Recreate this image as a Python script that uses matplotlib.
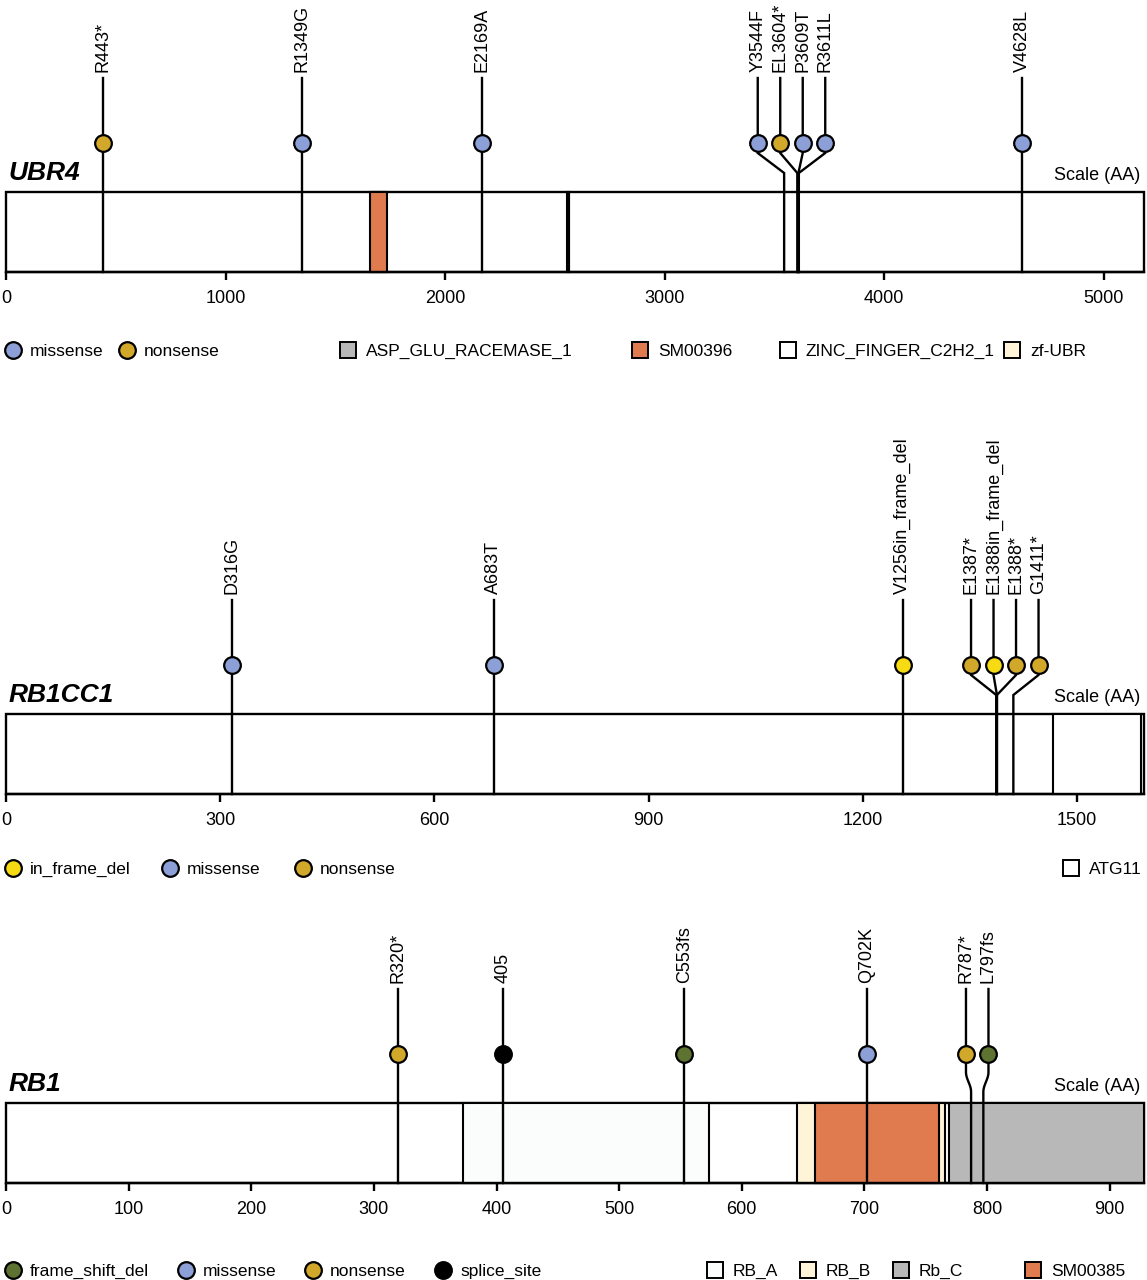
import matplotlib
matplotlib.use('Agg')
import matplotlib.pyplot as plt
import matplotlib.transforms as mtransforms
from matplotlib.patches import Rectangle
import numpy as np

plt.rcParams['font.family'] = ['Liberation Sans', 'DejaVu Sans']

W, H = 1147, 1280

mut_colors = {'missense': '#8c9fd6', 'nonsense': '#d2a82b', 'in_frame_del': '#f6da12',
              'frame_shift_del': '#5e7231', 'splice_site': '#000000'}
dom_colors = {'ASP_GLU_RACEMASE_1': '#b8b8b8', 'SM00396': '#e07b4f', 'ZINC_FINGER_C2H2_1': '#ffffff',
              'zf-UBR': '#fff4d8', 'ATG11': '#ffffff', 'RB_A': '#fbfdfd', 'RB_B': '#fff4d8',
              'Rb_C': '#b8b8b8', 'SM00385': '#e07b4f'}

# ---- UBR4
ubr4_len = 5183
ubr4_pos = [443, 1349, 2169, 3544, 3604, 3609, 3611, 4628]
ubr4_lab = ['R443*', 'R1349G', 'E2169A', 'Y3544F', 'EL3604*', 'P3609T', 'R3611L', 'V4628L']
ubr4_type = ['nonsense', 'missense', 'missense', 'missense', 'nonsense', 'missense', 'missense', 'missense']
ubr4_dom = ['zf-UBR', 'SM00396', 'ASP_GLU_RACEMASE_1', 'ZINC_FINGER_C2H2_1']
ubr4_dom_start = [1663, 1660, 2557, 2558]
ubr4_dom_end = [1730, 1733, 2566, 2565]
ubr4_ticks = [0, 1000, 2000, 3000, 4000, 5000]

# ---- RB1CC1
rb1cc1_len = 1594
rb1cc1_pos = [316, 683, 1256, 1387, 1388, 1388, 1411]
rb1cc1_lab = ['D316G', 'A683T', 'V1256in_frame_del', 'E1387*', 'E1388in_frame_del', 'E1388*', 'G1411*']
rb1cc1_type = ['missense', 'missense', 'in_frame_del', 'nonsense', 'in_frame_del', 'nonsense', 'nonsense']
rb1cc1_dom = ['ATG11']
rb1cc1_dom_start = [1467]
rb1cc1_dom_end = [1590]
rb1cc1_ticks = [0, 300, 600, 900, 1200, 1500]

# ---- RB1
rb1_len = 928
rb1_pos = [320, 405, 553, 702, 787, 797]
rb1_lab = ['R320*', '405', 'C553fs', 'Q702K', 'R787*', 'L797fs']
rb1_type = ['nonsense', 'splice_site', 'frame_shift_del', 'missense', 'nonsense', 'frame_shift_del']
rb1_dom = ['RB_A', 'RB_B', 'SM00385', 'Rb_C']
rb1_dom_start = [373, 645, 660, 769]
rb1_dom_end = [573, 766, 761, 928]
rb1_ticks = [0, 100, 200, 300, 400, 500, 600, 700, 800, 900]

X0, X1 = 6, 1144          # track pixel extent
SPACING = 22.5            # min circle spacing in px
LW = 1.7


def spread(pos, length):
    px = [X0 + p / length * (X1 - X0) for p in pos]
    groups = [[i] for i in range(len(px))]
    def layout(g):
        mid = (px[g[0]] + px[g[-1]]) / 2
        n = len(g)
        return [mid + (k - (n - 1) / 2) * SPACING for k in range(n)]
    changed = True
    while changed:
        changed = False
        for j in range(len(groups) - 1):
            a, b = layout(groups[j]), layout(groups[j + 1])
            if b[0] - a[-1] < SPACING - 0.01:
                groups[j] = groups[j] + groups[j + 1]
                del groups[j + 1]
                changed = True
                break
    disp = []
    for g in groups:
        disp += layout(g)
    return [(d - X0) / (X1 - X0) * length for d in disp]


fig = plt.figure(figsize=(W / 100, H / 100), dpi=100)
fig.patch.set_facecolor('white')

# overlay for legends (pixel coords)
lax = fig.add_axes([0, 0, 1, 1])
lax.set_xlim(0, W); lax.set_ylim(H, 0); lax.axis('off')


def panel(name, length, pos, lab, typ, dom, dstart, dend, ticks, top_px, curve=False):
    bot_px = top_px + 80
    h = 280
    ax = fig.add_axes([X0 / W, (H - bot_px) / H, (X1 - X0) / W, h / H])
    ax.set_xlim(0, length); ax.set_ylim(0, h)
    ax.patch.set_visible(False)
    for s in ['top', 'right', 'left']:
        ax.spines[s].set_visible(False)
    ax.spines['bottom'].set_linewidth(LW)
    ax.set_yticks([])
    ax.set_xticks(ticks)
    ax.tick_params(axis='x', length=6, width=LW, pad=7, labelsize=13, direction='out')

    ax.add_patch(Rectangle((0, 0), length, 80, facecolor='white', edgecolor='black', lw=LW,
                           clip_on=False, zorder=1))
    for d, s, e in zip(dom, dstart, dend):
        ax.add_patch(Rectangle((s, 0), e - s, 80, facecolor=dom_colors[d], edgecolor='black',
                               lw=1.5, clip_on=False, zorder=2))

    disp = spread(pos, length)
    cy, stick_top = 80 + 49, 80 + 114
    for p, d, l, t in zip(pos, disp, lab, typ):
        if curve:
            tt = np.linspace(0, 1, 30)
            bx = d + (p - d) * (1 - np.cos(np.pi * tt)) / 2
            by = 80 + 31 - 20 * tt
            xs = np.r_[d, d, bx, p]
            ys = np.r_[stick_top, cy, by, 0]
        else:
            xs = [d, d, d, p, p]
            ys = [stick_top, cy, 80 + 39, 80 + 19, 0]
        ax.plot(xs, ys, color='black', lw=LW, solid_joinstyle='miter', clip_on=False, zorder=3)
        ax.plot(d, cy, 'o', ms=12, mfc=mut_colors[t], mec='black', mew=1.6, clip_on=False, zorder=4)
        ax.text(d, stick_top + 6, l, rotation=90, ha='center', va='bottom', fontsize=13,
                clip_on=False, zorder=5)

    tr = mtransforms.blended_transform_factory(ax.transAxes, ax.transData)
    ax.text(0.002, 92, name, transform=tr, fontsize=19, fontweight='bold', fontstyle='italic',
            ha='left', va='baseline')
    ax.text(0.9965, 92, 'Scale (AA)', transform=tr, fontsize=13, ha='right', va='baseline')
    return ax


panel('UBR4', ubr4_len, ubr4_pos, ubr4_lab, ubr4_type, ubr4_dom, ubr4_dom_start, ubr4_dom_end,
      ubr4_ticks, 192)
panel('RB1CC1', rb1cc1_len, rb1cc1_pos, rb1cc1_lab, rb1cc1_type, rb1cc1_dom, rb1cc1_dom_start,
      rb1cc1_dom_end, rb1cc1_ticks, 714)
panel('RB1', rb1_len, rb1_pos, rb1_lab, rb1_type, rb1_dom, rb1_dom_start, rb1_dom_end,
      rb1_ticks, 1103, curve=True)


def legend_row(y, muts, mut_x, doms, dom_x):
    for m, x in zip(muts, mut_x):
        lax.plot(x, y, 'o', ms=12, mfc=mut_colors[m], mec='black', mew=1.6, clip_on=False)
        lax.text(x + 17, y, m, fontsize=12.5, va='center_baseline', ha='left')
    for d, x in zip(doms, dom_x):
        lax.plot(x, y, 's', ms=11, mfc=dom_colors[d], mec='black', mew=1.4, clip_on=False)
        lax.text(x + 18, y, d, fontsize=12.5, va='center_baseline', ha='left')


legend_row(350, ['missense', 'nonsense'], [13, 127],
           ['ASP_GLU_RACEMASE_1', 'SM00396', 'ZINC_FINGER_C2H2_1', 'zf-UBR'], [348, 640, 788, 1012])
legend_row(868, ['in_frame_del', 'missense', 'nonsense'], [13, 170, 303], ['ATG11'], [1071])
legend_row(1270, ['frame_shift_del', 'missense', 'nonsense', 'splice_site'], [13, 186, 313, 443],
           ['RB_A', 'RB_B', 'Rb_C', 'SM00385'], [715, 808, 901, 1033])

fig.savefig('out.png', dpi=100, facecolor='white')
